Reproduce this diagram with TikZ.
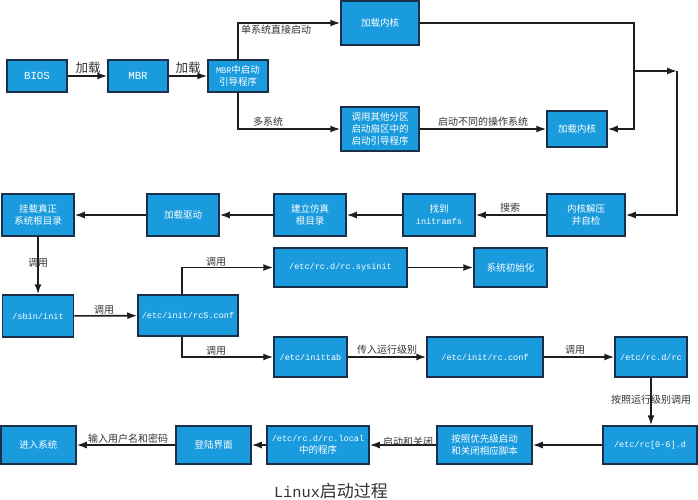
\documentclass[tikz,border=0pt]{standalone}
\usepackage{fontspec}
\setmainfont{Noto Sans CJK SC}
\setmonofont{Liberation Mono}[Scale=0.9]
\usetikzlibrary{arrows.meta}
\definecolor{boxblue}{HTML}{1A9BDD}
\definecolor{boxline}{HTML}{1C2F48}
\definecolor{arrline}{HTML}{1E1E1E}
\definecolor{lbl}{HTML}{333333}
\tikzset{
  box/.style={draw=boxline, fill=boxblue, line width=1.5pt, text=white, inner sep=0pt,
    align=center, font=\fontsize{9.5}{12}\selectfont},
  arr/.style={draw=arrline, line width=1.6pt, -{Latex[length=10pt,width=7pt]}},
  lab/.style={text=lbl, font=\fontsize{10}{12}\selectfont, inner sep=0pt},
  bigl/.style={text=lbl, font=\fontsize{12.5}{14}\selectfont, inner sep=0pt},
}
\newcommand{\bx}[6]{\node[box, minimum width=#4pt, minimum height=#5pt] (#1) at (#2,#3) {#6};}
\begin{document}
\begin{tikzpicture}[x=1pt,y=-1pt]
\useasboundingbox[fill=white] (0,0) rectangle (698,500);
% boxes
\bx{bios}{37}{76}{60}{32}{\fontsize{12}{14}\selectfont\texttt{BIOS}}
\bx{mbr}{138}{76}{60}{32}{\fontsize{12}{14}\selectfont\texttt{MBR}}
\bx{boot}{238}{76}{60}{32}{\texttt{MBR}中启动\\引导程序}
\bx{kone}{380}{23}{78}{44}{加载内核}
\bx{other}{380}{129}{78}{44}{调用其他分区\\启动扇区中的\\启动引导程序}
\bx{ktwo}{577}{129}{60}{36}{加载内核}
\bx{decomp}{586}{215}{78}{42}{内核解压\\并自检}
\bx{initrd}{439}{215}{72}{42}{找到\\\texttt{initramfs}}
\bx{sim}{310}{215}{72}{42}{建立仿真\\根目录}
\bx{drv}{183}{215}{72}{42}{加载驱动}
\bx{mount}{38}{215}{72}{42}{挂载真正\\系统根目录}
\bx{sbin}{38}{316}{71}{42}{\texttt{/sbin/init}}
\bx{rcs}{188}{315.5}{100}{41}{\texttt{/etc/init/rcS.conf}}
\bx{sysinit}{340.5}{267.5}{133}{39}{\texttt{/etc/rc.d/rc.sysinit}}
\bx{sysdone}{510.5}{267.5}{73}{39}{系统初始化}
\bx{inittab}{310.5}{357}{73}{40}{\texttt{/etc/inittab}}
\bx{rcconf}{485}{357}{116}{40}{\texttt{/etc/init/rc.conf}}
\bx{rcd}{651}{357}{72}{40}{\texttt{/etc/rc.d/rc}}
\bx{rcn}{650}{445}{94}{38}{\texttt{/etc/rc[0-6].d}}
\bx{prio}{484.5}{445}{95}{38}{按照优先级启动\\和关闭相应脚本}
\bx{local}{318}{445}{102}{38}{\texttt{/etc/rc.d/rc.local}\\中的程序}
\bx{login}{213.5}{445}{75}{38}{登陆界面}
\bx{enter}{38.5}{445}{75}{38}{进入系统}
% coordinates
\coordinate (ca) at (634,129);
\coordinate (cb) at (634,71);
\coordinate (cc) at (677,71);
% connectors
\draw[arr] (bios) -- (mbr);
\draw[arr] (mbr) -- (boot);
\draw[arr] (boot.north) |- (kone.west);
\draw[arr] (boot.south) |- (other.west);
\draw[arr] (other.east) -- (ktwo.west);
\draw[arr] (kone.east) -| (ca) -- (ktwo.east);
\draw[arr] (cb) -- (cc);
\draw[arr] (cc) |- (decomp.east);
\draw[arr] (decomp) -- (initrd);
\draw[arr] (initrd) -- (sim);
\draw[arr] (sim) -- (drv);
\draw[arr] (drv) -- (mount);
\draw[arr] (mount) -- (sbin);
\draw[arr] (sbin) -- (rcs);
\draw[arr] ([xshift=-6pt]rcs.north) |- (sysinit.west);
\draw[arr] ([xshift=-6pt]rcs.south) |- (inittab.west);
\draw[arr] (sysinit) -- (sysdone);
\draw[arr] (inittab) -- (rcconf);
\draw[arr] (rcconf) -- (rcd);
\draw[arr] (rcd.south) -- (rcd.south |- rcn.north);
\draw[arr] (rcn) -- (prio);
\draw[arr] (prio) -- (local);
\draw[arr] (local) -- (login);
\draw[arr] (login) -- (enter);
% labels
\node[bigl] (l1) at (88,68) {加载};
\node[bigl] (l2) at (188,68) {加载};
\node[lab] (l3) at (276,30) {单系统直接启动};
\node[lab] (l4) at (268,122) {多系统};
\node[lab] (l5) at (483,122) {启动不同的操作系统};
\node[lab] (l6) at (510,208) {搜索};
\node[lab] (l7) at (38,263) {调用};
\node[lab] (l8) at (104,310) {调用};
\node[lab] (l9) at (216,262) {调用};
\node[lab] (l10) at (216,351) {调用};
\node[lab] (l11) at (387,350) {传入运行级别};
\node[lab] (l12) at (575,350) {调用};
\node[lab] (l13) at (651,400) {按照运行级别调用};
\node[lab] (l14) at (408,442) {启动和关闭};
\node[lab] (l15) at (128,439) {输入用户名和密码};
\node[text=lbl, font=\fontsize{17}{20}\selectfont, inner sep=0pt] (title) at (331,491) {\texttt{Linux}启动过程};
\end{tikzpicture}
\end{document}
